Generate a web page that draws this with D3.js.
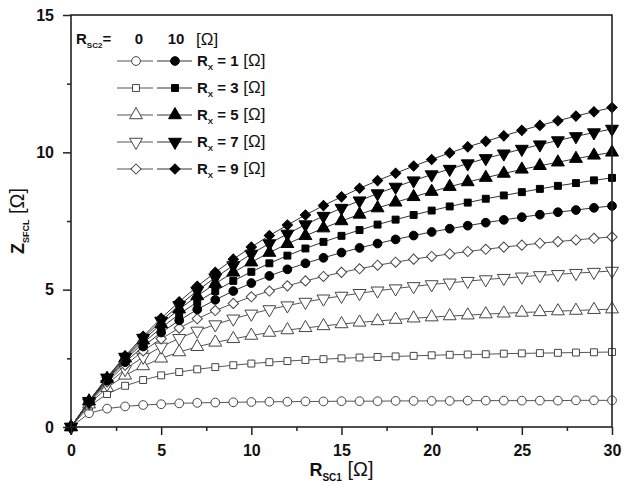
<!DOCTYPE html>
<html>
<head>
<meta charset="utf-8">
<script src="https://cdn.jsdelivr.net/npm/d3@7"></script>
<style>
  body { margin: 0; background: #fff; }
  text { font-family: "Liberation Sans", Arial, sans-serif; fill: #111; }
</style>
</head>
<body>
<div id="chart"></div>
<script>
// Data
const rsc1 = [0,1,2,3,4,5,6,7,8,9,10,11,12,13,14,15,16,17,18,19,20,21,22,23,24,25,26,27,28,29,30];
const rxValues = [1, 3, 5, 7, 9];
const rsc2Values = [0, 10];

// R_SC2 = 0 (open markers)
const openRx1 = [0,0.50,0.67,0.75,0.80,0.83,0.86,0.88,0.89,0.90,0.91,0.92,0.92,0.93,0.93,0.94,0.94,0.94,0.95,0.95,0.95,0.95,0.96,0.96,0.96,0.96,0.96,0.96,0.97,0.97,0.97];
const openRx3 = [0,0.75,1.20,1.50,1.71,1.88,2.00,2.10,2.18,2.25,2.31,2.36,2.40,2.44,2.47,2.50,2.53,2.55,2.57,2.59,2.61,2.63,2.64,2.65,2.67,2.68,2.69,2.70,2.71,2.72,2.73];
const openRx5 = [0,0.83,1.43,1.88,2.22,2.50,2.73,2.92,3.08,3.21,3.33,3.44,3.53,3.61,3.68,3.75,3.81,3.86,3.91,3.96,4.00,4.04,4.07,4.11,4.14,4.17,4.19,4.22,4.24,4.27,4.29];
const openRx7 = [0,0.88,1.56,2.10,2.55,2.92,3.23,3.50,3.73,3.94,4.12,4.28,4.42,4.55,4.67,4.77,4.87,4.96,5.04,5.12,5.19,5.25,5.31,5.37,5.42,5.47,5.52,5.56,5.60,5.64,5.68];
const openRx9 = [0,0.90,1.64,2.25,2.77,3.21,3.60,3.94,4.24,4.50,4.74,4.95,5.14,5.32,5.48,5.63,5.76,5.89,6.00,6.11,6.21,6.30,6.39,6.47,6.55,6.62,6.69,6.75,6.81,6.87,6.92];

// R_SC2 = 10 (filled markers)
const fillRx1 = [0,0.92,1.69,2.36,2.93,3.44,3.88,4.28,4.63,4.95,5.24,5.50,5.74,5.96,6.16,6.35,6.52,6.68,6.83,6.97,7.10,7.22,7.33,7.44,7.54,7.64,7.73,7.82,7.90,7.98,8.05];
const fillRx3 = [0,0.93,1.73,2.44,3.06,3.61,4.11,4.55,4.95,5.32,5.65,5.96,6.24,6.50,6.74,6.96,7.17,7.37,7.55,7.72,7.88,8.03,8.17,8.31,8.43,8.55,8.67,8.78,8.88,8.98,9.07];
const fillRx5 = [0,0.94,1.76,2.50,3.16,3.75,4.29,4.77,5.22,5.63,6.00,6.35,6.67,6.96,7.24,7.50,7.74,7.97,8.18,8.38,8.57,8.75,8.92,9.08,9.23,9.38,9.51,9.64,9.77,9.89,10.00];
const fillRx7 = [0,0.94,1.79,2.55,3.24,3.86,4.43,4.96,5.44,5.88,6.30,6.68,7.03,7.37,7.68,7.97,8.24,8.50,8.74,8.97,9.19,9.39,9.59,9.78,9.95,10.12,10.28,10.43,10.58,10.72,10.85];
const fillRx9 = [0,0.95,1.81,2.59,3.30,3.96,4.56,5.12,5.63,6.11,6.55,6.97,7.35,7.72,8.06,8.38,8.69,8.97,9.24,9.50,9.74,9.98,10.20,10.40,10.60,10.80,10.98,11.15,11.32,11.48,11.63];

const xTicks = [0, 5, 10, 15, 20, 25, 30];
const xMinorTicks = [2.5, 7.5, 12.5, 17.5, 22.5, 27.5];
const yTicks = [0, 5, 10, 15];
const yMinorTicks = [2.5, 7.5, 12.5];

// Layout
const svgWidth = 627;
const svgHeight = 496;
const margin = { top: 15, right: 15, bottom: 69, left: 71 };
const width = svgWidth - margin.left - margin.right;
const height = svgHeight - margin.top - margin.bottom;

const svg = d3.select("#chart")
  .append("svg")
  .attr("width", svgWidth)
  .attr("height", svgHeight);

const chartGroup = svg.append("g")
  .attr("transform", `translate(${margin.left}, ${margin.top})`);

const xScale = d3.scaleLinear().domain([0, 30]).range([0, width]);
const yScale = d3.scaleLinear().domain([0, 15]).range([height, 0]);

// marker shapes, one per Rx
const shapes = [
  { type: d3.symbolCircle, size: 60, rot: 0 },
  { type: d3.symbolSquare, size: 48, rot: 0 },
  { type: d3.symbolTriangle, size: 72, rot: 0 },
  { type: d3.symbolTriangle, size: 72, rot: 180 },
  { type: d3.symbolSquare, size: 52, rot: 45 }
];

const openSeries = [openRx1, openRx3, openRx5, openRx7, openRx9];
const fillSeries = [fillRx1, fillRx3, fillRx5, fillRx7, fillRx9];

const line = d3.line()
  .x((d, i) => xScale(rsc1[i]))
  .y(d => yScale(d));

function drawSeries(values, shape, filled) {
  const g = chartGroup.append("g");
  g.append("path")
    .datum(values)
    .attr("fill", "none")
    .attr("stroke", filled ? "#333" : "#555")
    .attr("stroke-width", 1)
    .attr("d", line);
  g.selectAll("path.mark")
    .data(values)
    .enter()
    .append("path")
    .attr("class", "mark")
    .attr("d", d3.symbol().type(shape.type).size(shape.size))
    .attr("transform", (d, i) => `translate(${xScale(rsc1[i])}, ${yScale(d)}) rotate(${shape.rot})`)
    .attr("fill", filled ? "#000" : "#fff")
    .attr("stroke", filled ? "#000" : "#444")
    .attr("stroke-width", 1);
}

openSeries.forEach((s, i) => drawSeries(s, shapes[i], false));
fillSeries.forEach((s, i) => drawSeries(s, shapes[i], true));

// axes
chartGroup.append("g")
  .attr("transform", `translate(0, ${height})`)
  .call(d3.axisBottom(xScale).tickValues(xTicks).tickSize(8).tickSizeOuter(0).tickPadding(10));
chartGroup.append("g")
  .attr("transform", `translate(0, ${height})`)
  .call(d3.axisBottom(xScale).tickValues(xMinorTicks).tickSize(4).tickSizeOuter(0).tickFormat(""));

chartGroup.append("g")
  .call(d3.axisLeft(yScale).tickValues(yTicks).tickSize(8).tickSizeOuter(0).tickPadding(9));
chartGroup.append("g")
  .call(d3.axisLeft(yScale).tickValues(yMinorTicks).tickSize(4).tickSizeOuter(0).tickFormat(""));

chartGroup.selectAll(".domain").remove();
chartGroup.selectAll(".tick line").attr("stroke", "#222").attr("stroke-width", 1.5);
chartGroup.selectAll(".tick text")
  .style("font-size", "16px")
  .style("font-weight", "bold")
  .attr("fill", "#111");

// frame
chartGroup.append("rect")
  .attr("x", 0)
  .attr("y", 0)
  .attr("width", width)
  .attr("height", height)
  .attr("fill", "none")
  .attr("stroke", "#222")
  .attr("stroke-width", 1.6);

// x axis title
const xTitle = svg.append("text")
  .attr("x", margin.left + width / 2)
  .attr("y", 476)
  .attr("text-anchor", "middle")
  .style("font-size", "18px");
xTitle.append("tspan").style("font-weight", "bold").text("R");
xTitle.append("tspan").style("font-weight", "bold").style("font-size", "10px").attr("dy", 5).text("SC1");
xTitle.append("tspan").attr("dy", -5).style("font-size", "20px").text(" [Ω]");

// y axis title
const yTitle = svg.append("text")
  .attr("transform", `translate(24, ${margin.top + height / 2}) rotate(-90)`)
  .attr("text-anchor", "middle")
  .style("font-size", "18px");
yTitle.append("tspan").style("font-weight", "bold").text("Z");
yTitle.append("tspan").style("font-weight", "bold").style("font-size", "9px").attr("dy", 5).text("SFCL");
yTitle.append("tspan").attr("dy", -5).style("font-size", "20px").text(" [Ω]");

// legend
const legend = svg.append("g");
const header = legend.append("text")
  .attr("x", 76)
  .attr("y", 44)
  .style("font-size", "15px")
  .style("font-weight", "bold");
header.append("tspan").text("R");
header.append("tspan").style("font-size", "8px").attr("dy", 4).text("SC2");
header.append("tspan").attr("dy", -4).text("=");

legend.selectAll("text.col")
  .data(rsc2Values)
  .enter()
  .append("text")
  .attr("class", "col")
  .attr("x", (d, i) => i === 0 ? 139 : 176)
  .attr("y", 44)
  .attr("text-anchor", "middle")
  .style("font-size", "15px")
  .style("font-weight", "bold")
  .text(d => d);
legend.append("text")
  .attr("x", 196)
  .attr("y", 45)
  .style("font-size", "17px")
  .text("[Ω]");

const rowY = [61, 88, 115, 142, 169];
rxValues.forEach((rx, i) => {
  const yy = rowY[i];
  const row = legend.append("g");
  // open marker sample
  row.append("line").attr("x1", 117).attr("x2", 153).attr("y1", yy).attr("y2", yy)
    .attr("stroke", "#555").attr("stroke-width", 1);
  row.append("path")
    .attr("d", d3.symbol().type(shapes[i].type).size(shapes[i].size))
    .attr("transform", `translate(136, ${yy}) rotate(${shapes[i].rot})`)
    .attr("fill", "#fff").attr("stroke", "#444");
  // filled marker sample
  row.append("line").attr("x1", 157).attr("x2", 192).attr("y1", yy).attr("y2", yy)
    .attr("stroke", "#333").attr("stroke-width", 1);
  row.append("path")
    .attr("d", d3.symbol().type(shapes[i].type).size(shapes[i].size))
    .attr("transform", `translate(175, ${yy}) rotate(${shapes[i].rot})`)
    .attr("fill", "#000").attr("stroke", "#000");
  const t = row.append("text")
    .attr("x", 197)
    .attr("y", yy + 5)
    .style("font-size", "15px");
  t.append("tspan").style("font-weight", "bold").text("R");
  t.append("tspan").style("font-weight", "bold").style("font-size", "8px").attr("dy", 4).text("X");
  t.append("tspan").style("font-weight", "bold").attr("dy", -4).text(" = " + rx);
  t.append("tspan").style("font-size", "17px").text(" [Ω]");
});
</script>
</body>
</html>
